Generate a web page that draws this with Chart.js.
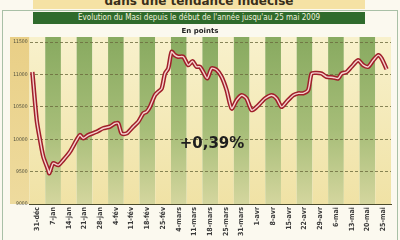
<!DOCTYPE html>
<html>
<head>
<meta charset="utf-8">
<script src="https://cdn.jsdelivr.net/npm/chart.js@4.4.0/dist/chart.umd.min.js"></script>
<style>
  body { margin: 0; background: #fbf9ef; }
  #wrap { position: relative; width: 400px; height: 240px; overflow: hidden; }
  #frame { position: absolute; left: 2px; top: 10px; width: 394px; height: 236px; border: 1px solid #a9c0a6; }
  #topband { position: absolute; left: 33px; top: 0; width: 332px; height: 9px; background: #f5e2a4; overflow: hidden; }
  #topband span { position: absolute; left: 0; width: 100%; top: -6px; text-align: center; font: bold 12px "DejaVu Sans", sans-serif; color: #3a2f1a; }
  #greenband { position: absolute; left: 33px; top: 12px; width: 332px; height: 12px; background: #2f6b2c; color: #f1f1de; text-align: center; font: 8px/12px "DejaVu Sans Condensed", sans-serif; }
  #unit { position: absolute; left: 0; width: 400px; top: 27px; text-align: center; font: bold 7px "DejaVu Sans", sans-serif; color: #222; }
  #pct { position: absolute; left: 160px; width: 104px; top: 136px; text-align: center; font: bold 15px/15px "DejaVu Sans", sans-serif; color: #1e1e1e; }
  canvas { position: absolute; left: 0; top: 0; }
</style>
</head>
<body>
<div id="wrap">
  <div id="frame"></div>
  <canvas id="masi" width="400" height="240"></canvas>
  <div id="topband"><span>dans une tendance indécise</span></div>
  <div id="greenband">Evolution du Masi depuis le début de l'année jusqu'au 25 mai 2009</div>
  <div id="unit">En points</div>
  <div id="pct">+0,39%</div>
</div>
<script>
// étiquettes de l'axe des dates
const dateLabels = ['31-déc', '7-jan', '14-jan', '21-jan', '28-jan', '4-fév', '11-fév', '18-fév', '25-fév',
  '4-mars', '11-mars', '18-mars', '25-mars', '31-mars', '1-avr', '8-avr', '15-avr', '22-avr', '29-avr',
  '6-mai', '13-mai', '20-mai', '25-mai'];

// position (en semaines) et valeur du Masi
const weekPos = [-0.32, -0.04, 0.17, 0.38, 0.69, 0.76, 1.01, 1.33, 1.65, 2.07, 2.50, 2.71, 2.92, 3.24, 3.77,
  4.19, 4.62, 4.94, 5.15, 5.36, 5.68, 6.10, 6.42, 6.74, 6.95, 7.16, 7.48, 7.69, 7.91, 8.12, 8.33, 8.54,
  8.75, 8.96, 9.28, 9.60, 9.87, 10.13, 10.34, 10.55, 10.81, 11.09, 11.41, 11.72, 12.04, 12.36, 12.68,
  13.00, 13.31, 13.63, 13.95, 14.27, 14.48, 14.90, 15.22, 15.54, 15.86, 16.28, 16.60, 16.91, 17.23,
  17.45, 17.77, 18.09, 18.40, 18.82, 19.14, 19.36, 19.68, 19.99, 20.41, 20.73, 21.05, 21.37, 21.69,
  21.90, 22.22];
const masiValues = [11040, 10295, 9990, 9730, 9525, 9475, 9630, 9600, 9680, 9805, 9990, 10065, 10015, 10065,
  10115, 10170, 10195, 10245, 10245, 10090, 10090, 10195, 10270, 10400, 10425, 10500, 10680, 10735, 10785,
  11015, 11095, 11350, 11300, 11275, 11275, 11145, 11205, 11120, 11120, 11040, 10940, 11095, 11070, 10965,
  10760, 10475, 10605, 10680, 10630, 10450, 10500, 10580, 10630, 10680, 10630, 10500, 10580, 10680, 10710,
  10710, 10760, 11015, 11025, 11015, 10965, 10955, 10940, 11015, 11040, 11120, 11220, 11145, 11120, 11220,
  11300, 11250, 11083];

const yTicks = [9000, 9500, 10000, 10500, 11000, 11500];

const points = weekPos.map((x, i) => ({ x: x, y: masiValues[i] }));

// bandes verticales de fond
const stripes = {
  id: 'stripes',
  beforeDraw(chart) {
    const { ctx, chartArea: a, scales: { x } } = chart;
    const green = ctx.createLinearGradient(0, a.top, 0, a.bottom);
    green.addColorStop(0, '#88aa60');
    green.addColorStop(0.55, '#a6bd78');
    green.addColorStop(1, '#d4d69e');
    const cream = ctx.createLinearGradient(0, a.top, 0, a.bottom);
    cream.addColorStop(0, '#f8f1cc');
    cream.addColorStop(1, '#f0e2a5');
    const gold = ctx.createLinearGradient(0, a.top, 0, a.bottom);
    gold.addColorStop(0, '#e9cf86');
    gold.addColorStop(1, '#eedb9e');
    ctx.save();
    ctx.fillStyle = gold;
    ctx.fillRect(a.left - 19.5, a.top, 19.5, a.bottom - a.top);
    dateLabels.forEach((l, i) => {
      const x0 = x.getPixelForValue(i - 0.5);
      const x1 = x.getPixelForValue(i + 0.5);
      ctx.fillStyle = i % 2 ? green : cream;
      ctx.fillRect(x0, a.top, x1 - x0, a.bottom - a.top);
    });
    ctx.restore();
  }
};

new Chart(document.getElementById('masi'), {
  type: 'line',
  data: {
    datasets: [{
      data: points,
      borderColor: '#f6d2d0',
      borderWidth: 1.4,
      pointRadius: 0,
      tension: 0.25
    }, {
      data: points,
      borderColor: '#a01f2a',
      borderWidth: 4.4,
      pointRadius: 0,
      tension: 0.25
    }]
  },
  options: {
    responsive: false,
    animation: false,
    layout: { padding: { left: 9.5, right: 9, top: 37, bottom: 2 } },
    plugins: { legend: { display: false }, tooltip: { enabled: false } },
    scales: {
      x: {
        type: 'linear',
        min: -0.5,
        max: 22.5,
        afterBuildTicks: s => { s.ticks = dateLabels.map((l, i) => ({ value: i })); },
        afterFit: s => { s.height = 34; },
        grid: { display: false, drawTicks: false },
        border: { display: true, color: '#4a4a2a', width: 1 },
        ticks: {
          autoSkip: false,
          maxRotation: 90,
          minRotation: 90,
          padding: 3,
          color: '#3a3a3a',
          font: { family: 'DejaVu Sans Condensed', weight: 'bold', size: 7 },
          callback: v => dateLabels[v]
        }
      },
      y: {
        min: 9000,
        max: 11580,
        afterBuildTicks: s => { s.ticks = yTicks.map(v => ({ value: v })); },
        afterFit: s => { s.width = 20; },
        grid: { color: '#6b6a3c', lineWidth: 0.8, drawTicks: false },
        border: { display: false, dash: [3, 2] },
        ticks: {
          padding: 2,
          color: '#4a4a3a',
          font: { family: 'DejaVu Sans Condensed', size: 5 },
          callback: v => String(v)
        }
      }
    }
  },
  plugins: [stripes]
});
</script>
</body>
</html>
